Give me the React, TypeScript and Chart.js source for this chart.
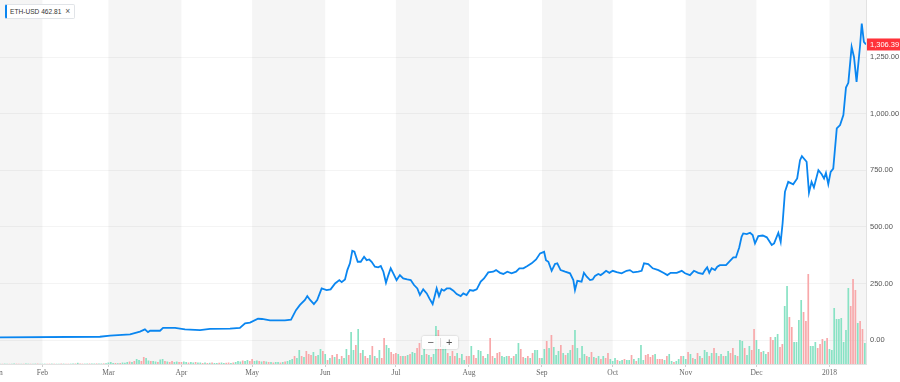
import React, { useEffect, useRef } from 'react';
import { Chart, registerables } from 'chart.js';

Chart.register(...registerables);

// ---- Data (day 0 = 14 Jan 2017) ----
const symbol = 'ETH-USD';
const chipValue = '462.81';

const monthTickDays = [-1, 18, 46, 77, 107, 138, 168, 199, 230, 260, 291, 321, 352];
const monthTickLabels = ['Jan', 'Feb', 'Mar', 'Apr', 'May', 'Jun', 'Jul', 'Aug', 'Sep', 'Oct', 'Nov', 'Dec', '2018'];
const shadedMonths: [number, number][] = [[-13, 18], [46, 77], [107, 138], [168, 199], [230, 260], [291, 321], [352, 383]];
const yTickValues = [0, 250, 500, 750, 1000, 1250];

const priceJanApr: [number, number][] = [[0, 12], [42.4, 14.5], [46.7, 19], [55.2, 25], [59.4, 37], [61.5, 47], [62.8, 35], [63.7, 41], [67.9, 41], [69.2, 54], [74.3, 54], [78.5, 47], [84.9, 44], [89.1, 49], [97.6, 50], [101.8, 54], [104.0, 74], [106.1, 77]];
const priceMayJun: [number, number][] = [[109.5, 94], [111.2, 93], [114.6, 87], [120.9, 87], [123.5, 90], [124.5, 110], [125.6, 132], [127.3, 155], [129.4, 177], [130.4, 194], [131.6, 177], [133.2, 159], [134.6, 177], [136.5, 228], [138.6, 221], [140.3, 224], [142.2, 250], [144.0, 265], [145.0, 256], [146.4, 268], [147.4, 309], [148.5, 339], [149.5, 394], [150.4, 390], [151.8, 346], [153.1, 346], [154.5, 368], [155.6, 353], [156.7, 356], [157.7, 346], [159.1, 324], [160.5, 321], [161.6, 327], [162.7, 302], [163.8, 253], [164.8, 287], [165.8, 317], [166.9, 295]];
const priceJulAug: [number, number][] = [[168.3, 265], [169.7, 287], [171.1, 272], [172.8, 268], [174.3, 265], [175.7, 243], [177.1, 228], [178.2, 199], [179.6, 224], [181.1, 206], [182.2, 184], [183.6, 159], [184.6, 199], [185.3, 228], [186.3, 194], [187.4, 224], [188.4, 218], [189.6, 228], [191.0, 228], [192.4, 218], [193.8, 203], [195.5, 194], [196.6, 206], [198.0, 199], [199.4, 221], [200.8, 218], [202.3, 224], [204.0, 258], [205.4, 272], [207.2, 299], [209.3, 302], [210.5, 309], [212.2, 297], [213.6, 292], [215.3, 302], [217.1, 295], [219.0, 302], [220.4, 317], [222.1, 317], [223.8, 327], [225.6, 339], [227.5, 356], [229.2, 383]];
const priceSepOct: [number, number][] = [[230.9, 390], [231.7, 353], [232.7, 346], [234.1, 306], [235.5, 336], [236.5, 339], [237.9, 309], [239.8, 302], [241.9, 295], [243.3, 265], [244.0, 221], [245.0, 262], [246.8, 258], [247.8, 297], [249.0, 280], [250.4, 265], [251.5, 268], [252.5, 283], [253.9, 292], [254.9, 287], [256.0, 295], [257.2, 306], [258.6, 297], [260.0, 306], [261.7, 300], [263.8, 295], [265.9, 306], [267.3, 309], [268.7, 299], [270.9, 302], [272.3, 306], [273.3, 339], [275.1, 336], [277.0, 317], [279.4, 309], [281.5, 297], [283.2, 287], [284.6, 297], [287.2, 297], [289.3, 306]];
const priceNovDec: [number, number][] = [[290.7, 295], [292.8, 287], [294.5, 306], [296.3, 297], [298.2, 292], [299.2, 309], [300.1, 321], [301.0, 297], [302.0, 317], [303.4, 309], [304.4, 324], [305.5, 331], [308.1, 331], [309.5, 346], [311.2, 365], [312.3, 365], [313.7, 409], [314.7, 456], [315.4, 471], [316.9, 468], [318.3, 474], [319.4, 464], [320.4, 427], [321.8, 459], [323.7, 462], [325.4, 454], [327.5, 420], [328.5, 427], [330.3, 474], [331.3, 434], [332.1, 515], [333.1, 655], [334.5, 699], [336.6, 688], [338.3, 714], [339.5, 795], [340.3, 813], [342.3, 788], [343.3, 651], [344.4, 699], [345.4, 674], [347.3, 751], [348.7, 733], [349.7, 714], [350.5, 739], [351.5, 689]];
const priceJan18: [number, number][] = [[352.5, 743], [353.6, 758], [355.1, 935], [356.5, 950], [357.9, 994], [359.0, 1116], [360.0, 1137], [361.4, 1296], [362.4, 1251], [363.5, 1141], [365.0, 1303], [365.7, 1399], [366.6, 1318], [367.5, 1306.39]];

// daily volume, millions
const volJan17 = [15, 12, 18, 16, 11, 13, 20, 17, 15, 12, 14, 19, 16, 13, 15, 18, 21, 17];
const volFeb17 = [14, 16, 12, 18, 20, 15, 13, 17, 22, 19, 16, 14, 18, 21, 25, 60, 24, 20, 18, 22, 26, 19, 23, 28, 21, 25, 30, 35];
const volMar17 = [75, 100, 50, 50, 40, 50, 75, 60, 100, 125, 100, 150, 250, 200, 150, 350, 300, 175, 150, 150, 125, 100, 225, 250, 150, 125, 100, 150, 100, 125, 100];
const volApr17 = [100, 125, 100, 75, 100, 75, 100, 75, 75, 50, 75, 50, 60, 75, 50, 50, 60, 75, 50, 60, 75, 50, 75, 100, 150, 125, 175, 150, 200, 150];
const volMay17 = [250, 150, 175, 150, 125, 150, 125, 100, 100, 75, 100, 100, 75, 100, 125, 150, 200, 250, 400, 300, 700, 400, 350, 650, 500, 450, 600, 400, 450, 750, 650];
const volJun17 = [500, 200, 300, 450, 350, 500, 250, 400, 300, 750, 450, 1600, 700, 950, 1750, 550, 700, 400, 300, 450, 900, 400, 300, 700, 300, 1300, 950, 800, 600, 500];
const volJul17 = [550, 500, 400, 400, 400, 450, 500, 600, 550, 800, 1050, 450, 750, 500, 450, 350, 500, 1900, 1700, 1200, 950, 900, 550, 400, 650, 400, 550, 300, 500, 200, 400];
const volAug17 = [400, 900, 450, 300, 700, 650, 400, 300, 500, 1300, 400, 300, 550, 600, 400, 350, 400, 400, 300, 400, 500, 1050, 750, 350, 300, 400, 300, 550, 700, 700, 300];
const volSep17 = [300, 750, 1150, 800, 1450, 850, 450, 650, 950, 550, 450, 550, 700, 950, 1700, 800, 300, 900, 500, 400, 350, 600, 350, 300, 400, 250, 400, 300, 550, 250];
const volOct17 = [150, 300, 200, 150, 200, 250, 200, 200, 450, 250, 150, 300, 950, 200, 450, 500, 350, 450, 500, 250, 250, 250, 200, 400, 500, 150, 100, 150, 250, 400, 400];
const volNov17 = [250, 600, 500, 300, 250, 550, 400, 300, 700, 600, 400, 550, 800, 550, 400, 500, 400, 400, 650, 550, 800, 450, 400, 1200, 1150, 800, 450, 900, 700, 1750];
const volDec17 = [1200, 750, 600, 650, 500, 600, 1350, 1200, 1350, 1500, 850, 1000, 2900, 3900, 2350, 1850, 1100, 1100, 2200, 3200, 2600, 2150, 4500, 900, 900, 1100, 800, 1000, 1250, 1150, 1300];
const volJan18 = [750, 700, 2800, 2250, 2250, 2300, 1100, 1700, 3800, 2900, 4250, 3700, 2050, 2150, 1750, 1050];

// day direction: u = up (green), d = down (red)
const dirJan17 = 'uduud uuddu duudu udu';
const dirFeb17 = 'uuddu duudu dduud udduu duudu udu';
const dirMar17 = 'uuudu duuud uduud duudu uduud udduu d';
const dirApr17 = 'duudu uduud ududu uduud duduu uduud';
const dirMay17 = 'duudu dudud uudud uuudu ududd duduu d';
const dirJun17 = 'ududu duduu duudu duddu dudud duudd';
const dirJul17 = 'dudud uduud duudu duudd uudud duduu d';
const dirAug17 = 'duddu uduud duddu uudud uuddu duduu d';
const dirSep17 = 'uudud uuudu duudu uduud ududu duddu';
const dirOct17 = 'uuduu duudu duuud dddud ddudu uduud u';
const dirNov17 = 'ududu duduu dudud uduud duduu duudd';
const dirDec17 = 'uuduu ddduu dduud duuuu ddduu udddu d';
const dirJan18 = 'uuuuu uuuud ddudd u';

const priceSeries = [...priceJanApr, ...priceMayJun, ...priceJulAug, ...priceSepOct, ...priceNovDec, ...priceJan18];
const volumes = [...volJan17, ...volFeb17, ...volMar17, ...volApr17, ...volMay17, ...volJun17, ...volJul17, ...volAug17, ...volSep17, ...volOct17, ...volNov17, ...volDec17, ...volJan18];
const directions = [dirJan17, dirFeb17, dirMar17, dirApr17, dirMay17, dirJun17, dirJul17, dirAug17, dirSep17, dirOct17, dirNov17, dirDec17, dirJan18].join('').replace(/ /g, '');

const UP = '#88e2c4';
const DOWN = '#f8a8aa';
const LINE = '#0a86f0';
const SANS = '"Liberation Sans", Arial, Helvetica, sans-serif';
const SERIF = '"Liberation Serif", "Times New Roman", serif';

const fmt = (v: number) => v.toLocaleString('en-US', { minimumFractionDigits: 2, maximumFractionDigits: 2 });

export default function App() {
  const ref = useRef<HTMLCanvasElement>(null);

  useEffect(() => {
    document.body.style.margin = '0';
    const canvas = ref.current;
    if (!canvas) return;
    const lastPrice = priceSeries[priceSeries.length - 1][1];

    const bandsPlugin = {
      id: 'bands',
      beforeDraw(chart: any) {
        const { ctx, chartArea: a } = chart;
        const xs = chart.scales.x;
        ctx.save();
        ctx.fillStyle = '#f5f5f5';
        for (const [s, e] of shadedMonths) {
          const x1 = Math.max(a.left, xs.getPixelForValue(s));
          const x2 = Math.min(a.right, xs.getPixelForValue(e));
          if (x2 > x1) ctx.fillRect(x1, a.top, x2 - x1, a.bottom - a.top);
        }
        ctx.restore();
      },
    };

    const lastLabelPlugin = {
      id: 'lastLabel',
      afterDraw(chart: any) {
        const { ctx, chartArea: a } = chart;
        const y = chart.scales.y.getPixelForValue(lastPrice);
        const left = a.right + 1;
        ctx.save();
        ctx.fillStyle = '#ff333a';
        ctx.fillRect(left, y - 6, chart.width - left, 12);
        ctx.fillStyle = '#ffffff';
        ctx.font = `7.5px ${SANS}`;
        ctx.textBaseline = 'middle';
        ctx.textAlign = 'left';
        ctx.fillText(fmt(lastPrice), left + 3, y + 0.5);
        ctx.restore();
      },
    };

    const chart = new Chart(canvas, {
      type: 'bar',
      data: {
        datasets: [
          {
            type: 'line',
            data: priceSeries.map(([d, v]) => ({ x: d, y: v })),
            borderColor: LINE,
            borderWidth: 1.8,
            pointRadius: 0,
            fill: false,
            tension: 0,
            yAxisID: 'y',
            order: 1,
          } as any,
          {
            type: 'bar',
            data: volumes.map((v, i) => ({ x: i, y: v })),
            backgroundColor: volumes.map((_, i) => (directions[i] === 'd' ? DOWN : UP)),
            borderWidth: 0,
            barPercentage: 0.72,
            categoryPercentage: 1,
            yAxisID: 'yVol',
            order: 2,
          } as any,
        ],
      },
      options: {
        responsive: false,
        devicePixelRatio: 1,
        animation: false,
        layout: { padding: 0, autoPadding: false } as any,
        plugins: { legend: { display: false }, tooltip: { enabled: false } },
        scales: {
          x: {
            type: 'linear',
            min: 0,
            max: 367.5,
            offset: false,
            grid: { display: true, drawOnChartArea: false, tickLength: 3, color: '#cfcfcf', offset: false },
            border: { color: '#e2e2e2' },
            afterBuildTicks: (axis: any) => {
              axis.ticks = monthTickDays.map((v) => ({ value: v }));
            },
            afterFit: (axis: any) => {
              axis.height = 18;
              axis.paddingLeft = 0;
              axis.paddingRight = 0;
              axis.paddingTop = 0;
              axis.paddingBottom = 0;
            },
            ticks: {
              autoSkip: false,
              maxRotation: 0,
              minRotation: 0,
              padding: 2,
              color: '#666666',
              font: { family: SERIF, size: 7.5 },
              callback: (_v: any, i: number) => monthTickLabels[i],
            },
          },
          y: {
            type: 'linear',
            position: 'right',
            min: -106,
            max: 1503,
            grid: { color: 'rgba(0,0,0,0.045)', drawTicks: false },
            border: { color: '#e2e2e2' },
            afterBuildTicks: (axis: any) => {
              axis.ticks = yTickValues.map((v) => ({ value: v }));
            },
            afterFit: (axis: any) => {
              axis.width = 34;
              axis.paddingLeft = 0;
              axis.paddingRight = 0;
              axis.paddingTop = 0;
              axis.paddingBottom = 0;
            },
            ticks: {
              padding: 4,
              color: '#555555',
              font: { family: SANS, size: 7.5 },
              callback: (v: any) => fmt(Number(v)),
            },
          },
          yVol: {
            type: 'linear',
            display: false,
            min: 0,
            max: 18200,
          },
        },
      } as any,
      plugins: [bandsPlugin, lastLabelPlugin],
    });

    return () => chart.destroy();
  }, []);

  return (
    <div style={{ position: 'relative', width: 900, height: 382, overflow: 'hidden', background: '#fff' }}>
      <canvas ref={ref} width={900} height={382} style={{ display: 'block', width: 900, height: 382 }} />
      <div
        style={{
          position: 'absolute',
          left: 5,
          top: 4,
          height: 15,
          boxSizing: 'border-box',
          padding: '0 4px 0 3px',
          background: '#fff',
          border: '1px solid #e1e4e8',
          borderLeft: `2px solid ${LINE}`,
          borderRadius: 2,
          fontFamily: SANS,
          fontSize: 6.6,
          lineHeight: '13px',
          color: '#333',
          whiteSpace: 'nowrap',
        }}
      >
        <span>{symbol} {chipValue}</span>
        <span style={{ marginLeft: 4, color: '#555', fontSize: 8.5 }}>×</span>
      </div>
      <div
        style={{
          position: 'absolute',
          left: 422,
          top: 336,
          width: 36,
          height: 13,
          boxSizing: 'border-box',
          background: 'rgba(255,255,255,0.9)',
          boxShadow: '0 0 2px rgba(0,0,0,0.25)',
          borderRadius: 2,
          display: 'flex',
          alignItems: 'center',
          fontFamily: SANS,
          fontSize: 11,
          color: '#555',
        }}
      >
        <span style={{ flex: 1, textAlign: 'center', lineHeight: '13px' }}>−</span>
        <span style={{ width: 1, height: 9, background: '#ddd' }} />
        <span style={{ flex: 1, textAlign: 'center', lineHeight: '13px' }}>+</span>
      </div>
    </div>
  );
}
